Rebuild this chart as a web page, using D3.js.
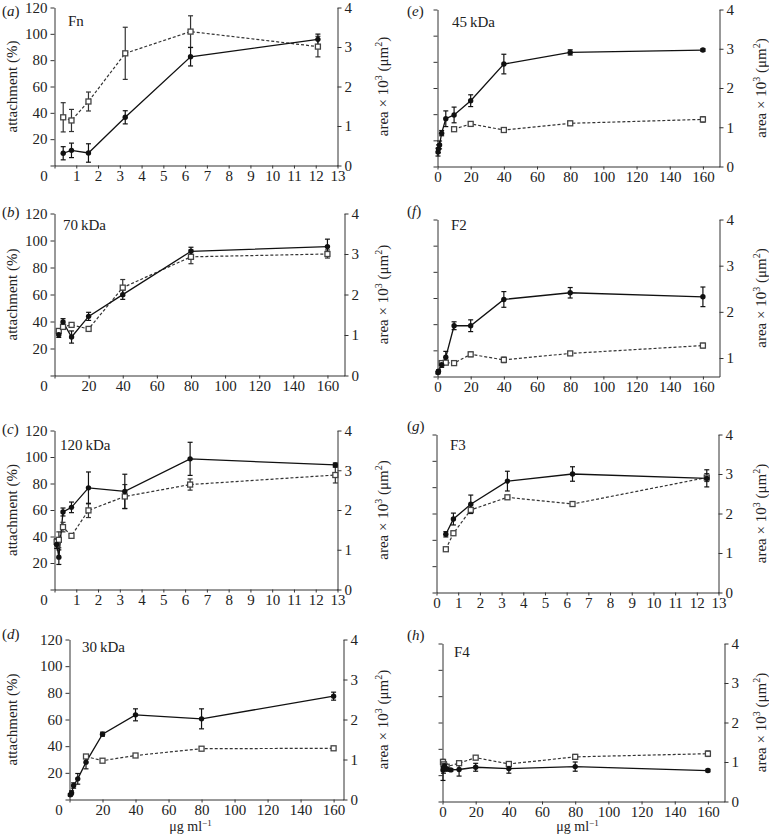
<!DOCTYPE html>
<html><head><meta charset="utf-8">
<script src="https://cdn.jsdelivr.net/npm/d3@7"></script>
<style>
body{margin:0;background:#fff}
svg{display:block}
text{font-family:"Liberation Serif","Times New Roman",serif;fill:#222}
</style>
</head><body>
<svg id="chart" width="769" height="836"></svg>
<script>
// ---------- data ----------
const panelLetters = ['a','b','c','d','e','f','g','h'];
const panelNames = ['Fn','70\u2009kDa','120\u2009kDa','30\u2009kDa','45\u2009kDa','F2','F3','F4'];
const xTicksFine = [0,1,2,3,4,5,6,7,8,9,10,11,12,13];
const xTicksWide = [0,20,40,60,80,100,120,140,160];
const attachTicks = [0,20,40,60,80,100,120];
const areaTicks = [0,1,2,3,4];
const areaMin = [0,0,0,0,0,0.6,0,0];

// (a) Fn
const xA = [0.4,0.78,1.56,3.25,6.25,12.1];
const attachA = [9.3,11.5,9.5,36.6,82.6,95.8];
const attachErrA = [5,5.5,7,5,7,4];
const areaXA = [0.4,0.78,1.56,3.25,6.25,12.1];
const areaA = [1.22,1.14,1.62,2.84,3.39,3.01];
const areaErrA = [0.37,0.28,0.24,0.66,0.4,0.26];
// (b) 70 kDa
const xB = [2.5,5,10,20,40,80,160];
const attachB = [30.2,39.6,28.5,43.8,59.9,92,95.5];
const attachErrB = [2,2.5,4.5,3,3.5,3,5.5];
const areaXB = [2.5,5,10,20,40,80,160];
const areaB = [1.1,1.2,1.25,1.15,2.17,2.93,3.0];
const areaErrB = [0.04,0.04,0.04,0.04,0.2,0.17,0.1];
// (c) 120 kDa
const xC = [0.1,0.2,0.39,0.78,1.56,3.23,6.23,12.9];
const attachC = [34,24.4,58.5,62,76.7,74,98.6,94];
const attachErrC = [3,5.5,3,4,12,13,12.5,1.5];
const areaXC = [0.1,0.2,0.39,0.78,1.56,3.23,6.23,12.9];
const areaC = [1.2,1.25,1.57,1.35,1.99,2.34,2.64,2.88];
const areaErrC = [0.08,0.2,0.12,0.04,0.18,0.3,0.14,0.2];
// (d) 30 kDa
const xD = [0.5,1.25,2.5,5,10,20,40,80,160];
const attachD = [3.5,5,10.5,15.5,28,49,63.5,60.5,77.5];
const attachErrD = [1,1.5,2,4,5,1.5,4.5,7.5,3];
const areaXD = [10,20,40,80,160];
const areaD = [1.075,0.97,1.1,1.27,1.28];
const areaErrD = [0.04,0.04,0.03,0.03,0.03];
// (e) 45 kDa
const xE = [0.3,0.6,1.25,2.5,5,10,20,40,80,160];
const attachE = [11,13.5,16.5,25.5,36.5,39.4,50.3,78.3,87.2,89];
const attachErrE = [3,3,3,2,6,6,4.5,7.5,2,1];
const areaXE = [10,20,40,80,160];
const areaE = [0.95,1.085,0.93,1.1,1.2];
const areaErrE = [0.04,0.04,0.03,0.05,0.07];
// (f) F2
const xF = [0.3,0.6,2.5,5,10,20,40,80,160];
const attachF = [3,4,9,14.7,38.8,38.8,58.9,64,60.9];
const attachErrF = [1,1,2,4.5,3,4.5,6,4,7.5];
const areaXF = [2.5,5,10,20,40,80,160];
const areaF = [0.89,0.9,0.89,1.08,0.96,1.1,1.27];
const areaErrF = [0.03,0.03,0.03,0.05,0.06,0.03,0.05];
// (g) F3
const xG = [0.43,0.78,1.58,3.27,6.27,12.46];
const attachG = [44.2,55.8,67,84.6,90,86.7];
const attachErrG = [2,4.5,7,7.5,5.5,6.5];
const areaXG = [0.43,0.78,1.58,3.27,6.27,12.46];
const areaG = [1.095,1.5,2.09,2.41,2.24,2.91];
const areaErrG = [0.03,0.04,0.06,0.04,0.04,0.1];
// (h) F4
const xH = [0.3,0.6,1.25,2.5,5,10,20,40,80,160];
const attachH = [24,25.5,27,25,24,24.3,26,25,26.5,23.5];
const attachErrH = [8,4,3,2,1,5,3,3.5,3.5,1];
const areaXH = [0.3,0.6,1.25,2.5,10,20,40,80,160];
const areaH = [1.0,0.94,0.9,0.88,0.97,1.11,0.95,1.13,1.21];
const areaErrH = [0.05,0.04,0.04,0.03,0.04,0.03,0.03,0.06,0.07];

const seriesX = [xA,xB,xC,xD,xE,xF,xG,xH];
const seriesAttach = [attachA,attachB,attachC,attachD,attachE,attachF,attachG,attachH];
const seriesAttachErr = [attachErrA,attachErrB,attachErrC,attachErrD,attachErrE,attachErrF,attachErrG,attachErrH];
const seriesAreaX = [areaXA,areaXB,areaXC,areaXD,areaXE,areaXF,areaXG,areaXH];
const seriesArea = [areaA,areaB,areaC,areaD,areaE,areaF,areaG,areaH];
const seriesAreaErr = [areaErrA,areaErrB,areaErrC,areaErrD,areaErrE,areaErrF,areaErrG,areaErrH];

// ---------- layout ----------
const layout = [
  {l:54.5, r:337.5, t:7.5,   b:165.5, xMax:13,  col:0, lx:2,   ly:16,  nx:68,  ny:26},
  {l:54.5, r:344.5, t:213.5, b:375.5, xMax:170, col:0, lx:2,   ly:217, nx:63,  ny:230},
  {l:54.5, r:337.5, t:430.5, b:589.5, xMax:13,  col:0, lx:2,   ly:434, nx:60,  ny:450},
  {l:69.5, r:343.5, t:639.5, b:799.5, xMax:166, col:0, lx:2,   ly:639, nx:82,  ny:652},
  {l:437.5,r:719.5, t:9.5,   b:166.5, xMax:170, col:1, lx:407, ly:16,  nx:452, ny:27},
  {l:437.5,r:719.5, t:219.5, b:376.5, xMax:170, col:1, lx:407, ly:216, nx:451, ny:230},
  {l:436.5,r:718.5, t:434.5, b:592.5, xMax:13,  col:1, lx:407, ly:431, nx:450, ny:450},
  {l:442.5,r:724.5, t:643.5, b:801.5, xMax:170, col:1, lx:407, ly:640, nx:454, ny:657}
];

const svg = d3.select('#chart');
const FS = 15;
const axisColor = '#333';

function styleAxis(g){
  g.attr('font-size',FS).attr('font-family','"Liberation Serif","Times New Roman",serif');
  g.selectAll('path,line').attr('stroke',axisColor).attr('stroke-width',1);
  g.selectAll('text').attr('fill','#222');
}

layout.forEach((L,i)=>{
  const x = d3.scaleLinear().domain([0,L.xMax]).range([L.l,L.r]);
  const yL = d3.scaleLinear().domain([0,120]).range([L.b,L.t]);
  const yR = d3.scaleLinear().domain([areaMin[i],4]).range([L.b,L.t]);
  const g = svg.append('g');

  // axes
  const gx = g.append('g').attr('transform',`translate(0,${L.b})`)
    .call(d3.axisBottom(x).tickValues(L.xMax===13?xTicksFine:xTicksWide)
      .tickSize(3).tickSizeOuter(0).tickPadding(2).tickFormat(d3.format('d')));
  styleAxis(gx);
  if(L.col===0) gx.selectAll('.tick').filter(d=>d===0).select('text').attr('dx',-11);

  const gl = g.append('g').attr('transform',`translate(${L.l},0)`)
    .call(d3.axisLeft(yL).tickValues(attachTicks).tickSize(4).tickSizeOuter(0).tickPadding(3)
      .tickFormat(d=> (L.col===0 && d!==0) ? d : ''));
  styleAxis(gl);

  const gr = g.append('g').attr('transform',`translate(${L.r},0)`)
    .call(d3.axisRight(yR).tickValues(areaTicks.filter(v=>v>=areaMin[i])).tickSize(4).tickSizeOuter(0).tickPadding(3)
      .tickFormat(d3.format('d')));
  styleAxis(gr);

  // data
  const xs = seriesX[i], at = seriesAttach[i], ae = seriesAttachErr[i];
  const axs = seriesAreaX[i], ar = seriesArea[i], are = seriesAreaErr[i];
  const attachPts = xs.map((v,k)=>({x:v,y:at[k],e:ae[k]}));
  const areaPts = axs.map((v,k)=>({x:v,y:ar[k],e:are[k]}));

  // dashed area line
  g.append('path').datum(areaPts)
    .attr('d',d3.line().x(d=>x(d.x)).y(d=>yR(d.y)))
    .attr('fill','none').attr('stroke','#333').attr('stroke-width',1.2).attr('stroke-dasharray','3,2');
  // solid attachment line
  g.append('path').datum(attachPts)
    .attr('d',d3.line().x(d=>x(d.x)).y(d=>yL(d.y)))
    .attr('fill','none').attr('stroke','#111').attr('stroke-width',1.3);

  function errBars(pts, ys, color){
    const eb = g.append('g').attr('stroke',color).attr('stroke-width',1.2);
    pts.forEach(d=>{
      const y1 = ys(d.y-d.e), y2 = ys(d.y+d.e), cx = x(d.x);
      eb.append('line').attr('x1',cx).attr('x2',cx).attr('y1',y1).attr('y2',y2);
      eb.append('line').attr('x1',cx-2.5).attr('x2',cx+2.5).attr('y1',y1).attr('y2',y1);
      eb.append('line').attr('x1',cx-2.5).attr('x2',cx+2.5).attr('y1',y2).attr('y2',y2);
    });
  }
  errBars(areaPts, yR, '#333');
  errBars(attachPts, yL, '#111');

  g.append('g').selectAll('rect').data(areaPts).join('rect')
    .attr('x',d=>x(d.x)-2.5).attr('y',d=>yR(d.y)-2.5).attr('width',5).attr('height',5)
    .attr('fill','#fff').attr('stroke','#444').attr('stroke-width',1.3);
  g.append('g').selectAll('circle').data(attachPts).join('circle')
    .attr('cx',d=>x(d.x)).attr('cy',d=>yL(d.y)).attr('r',2.7).attr('fill','#111');

  // panel letter
  const lt = svg.append('text').attr('x',L.lx).attr('y',L.ly).attr('font-size',FS);
  lt.append('tspan').text('(');
  lt.append('tspan').attr('font-style','italic').text(panelLetters[i]);
  lt.append('tspan').text(')');
  // name
  svg.append('text').attr('x',L.nx).attr('y',L.ny).attr('font-size',FS).text(panelNames[i]);

  // y titles
  const cy = (L.t+L.b)/2;
  if(L.col===0){
    svg.append('text').attr('transform',`translate(12,${cy}) rotate(-90)`)
      .attr('text-anchor','middle').attr('dominant-baseline','central').attr('font-size',FS)
      .text('attachment (%)');
  }
  const rx = L.col===0 ? 383 : 761;
  const rt = svg.append('text').attr('transform',`translate(${rx},${cy}) rotate(-90)`)
    .attr('text-anchor','middle').attr('dominant-baseline','central').attr('font-size',FS);
  rt.append('tspan').text('area \u00d7 10');
  rt.append('tspan').attr('font-size',10).attr('dy',-5).text('3');
  rt.append('tspan').attr('dy',5).text(' (\u03bcm');
  rt.append('tspan').attr('font-size',10).attr('dy',-5).text('2');
  rt.append('tspan').attr('dy',5).text(')');

  // x title on bottom row
  if(i===3 || i===7){
    const xt = svg.append('text').attr('x',(L.l+L.r)/2 - (i===3?16:6)).attr('y', 831)
      .attr('text-anchor','middle').attr('font-size',14);
    xt.append('tspan').text('\u03bcg ml');
    xt.append('tspan').attr('font-size',9).attr('dy',-5).text('\u22121');
  }
});
</script>
</body></html>
